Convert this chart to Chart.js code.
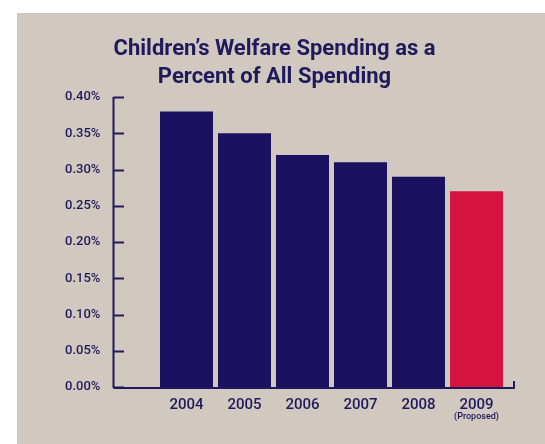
<!DOCTYPE html>
<html>
<head>
<meta charset="utf-8">
<script src="https://cdn.jsdelivr.net/npm/chart.js@4.4.1/dist/chart.umd.min.js"></script>
<style>
  html, body { margin: 0; padding: 0; background: #ffffff; }
  #wrap { width: 545px; height: 444px; }
</style>
</head>
<body>
<div id="wrap"><canvas id="spendChart" width="545" height="444"></canvas></div>
<script>
// Chart data
const years = ['2004', '2005', '2006', '2007', '2008', '2009'];
const sublabels = ['', '', '', '', '', '(Proposed)'];
const shares = [0.38, 0.35, 0.32, 0.31, 0.29, 0.27];
const yTicks = [0, 0.05, 0.10, 0.15, 0.20, 0.25, 0.30, 0.35, 0.40];
const titleLines = ['Children\u2019s Welfare Spending as a', 'Percent of All Spending'];

const navy = '#1a1160';
const red = '#d4133f';
const panel = '#d1c9bf';
const ink = '#1f1a5c';

// Beige panel, title, hand-drawn axes and the "(Proposed)" note
const decor = {
    id: 'decor',
    beforeDraw(chart) {
        const ctx = chart.ctx;
        ctx.save();
        ctx.fillStyle = panel;
        ctx.fillRect(17, 13, chart.width - 17, chart.height - 13);
        ctx.fillStyle = ink;
        ctx.font = 'bold 22px Roboto';
        ctx.textAlign = 'center';
        ctx.textBaseline = 'alphabetic';
        titleLines.forEach((t, i) => ctx.fillText(t, 274.5, 55 + i * 28));
        ctx.restore();
    },
    afterDatasetsDraw(chart) {
        const ctx = chart.ctx;
        const y = chart.scales.y;
        const x = chart.scales.x;
        const axisX = 113.5;
        const base = y.getPixelForValue(0) + 1;
        ctx.save();
        ctx.strokeStyle = ink;
        ctx.lineWidth = 2;
        // y axis line and ticks
        ctx.beginPath();
        ctx.moveTo(axisX, y.getPixelForValue(0.4));
        ctx.lineTo(axisX, base);
        yTicks.forEach(v => {
            const py = Math.round(y.getPixelForValue(v)) + 0.5;
            ctx.moveTo(axisX, py);
            ctx.lineTo(124, py);
        });
        // x axis line with the little end hook
        ctx.moveTo(axisX, base);
        ctx.lineTo(514, base);
        ctx.lineTo(514, base - 7);
        ctx.stroke();
        // small note under the last year
        ctx.fillStyle = ink;
        ctx.font = '500 9px Roboto';
        ctx.textAlign = 'center';
        ctx.textBaseline = 'middle';
        sublabels.forEach((s, i) => {
            if (s) ctx.fillText(s, x.getPixelForValue(i), 417);
        });
        ctx.restore();
    }
};

const ctx = document.getElementById('spendChart').getContext('2d');
const chart = new Chart(ctx, {
    type: 'bar',
    data: {
        labels: years,
        datasets: [{
            data: shares,
            backgroundColor: years.map((y, i) => i === years.length - 1 ? red : navy),
            borderWidth: 0,
            barPercentage: 0.914,
            categoryPercentage: 1
        }]
    },
    options: {
        responsive: false,
        animation: false,
        layout: { padding: { left: 65, right: 39.5, top: 97, bottom: 0 } },
        plugins: {
            legend: { display: false },
            tooltip: { enabled: false },
            title: { display: false }
        },
        scales: {
            x: {
                grid: { display: false, drawTicks: false },
                border: { display: false },
                ticks: {
                    color: ink,
                    font: { family: 'Roboto', size: 15, weight: '500' },
                    padding: 9.5
                },
                afterFit: s => { s.height = 57; }
            },
            y: {
                min: 0,
                max: 0.4,
                grid: { display: false, drawTicks: false },
                border: { display: false },
                afterBuildTicks: s => { s.ticks = yTicks.map(v => ({ value: v })); },
                ticks: {
                    color: ink,
                    font: { family: 'Roboto', size: 13, weight: '500' },
                    padding: 0,
                    crossAlign: 'far',
                    callback: v => v.toFixed(2) + '%'
                },
                afterFit: s => { s.width = 92.5; }
            }
        }
    },
    plugins: [decor]
});
</script>
</body>
</html>
